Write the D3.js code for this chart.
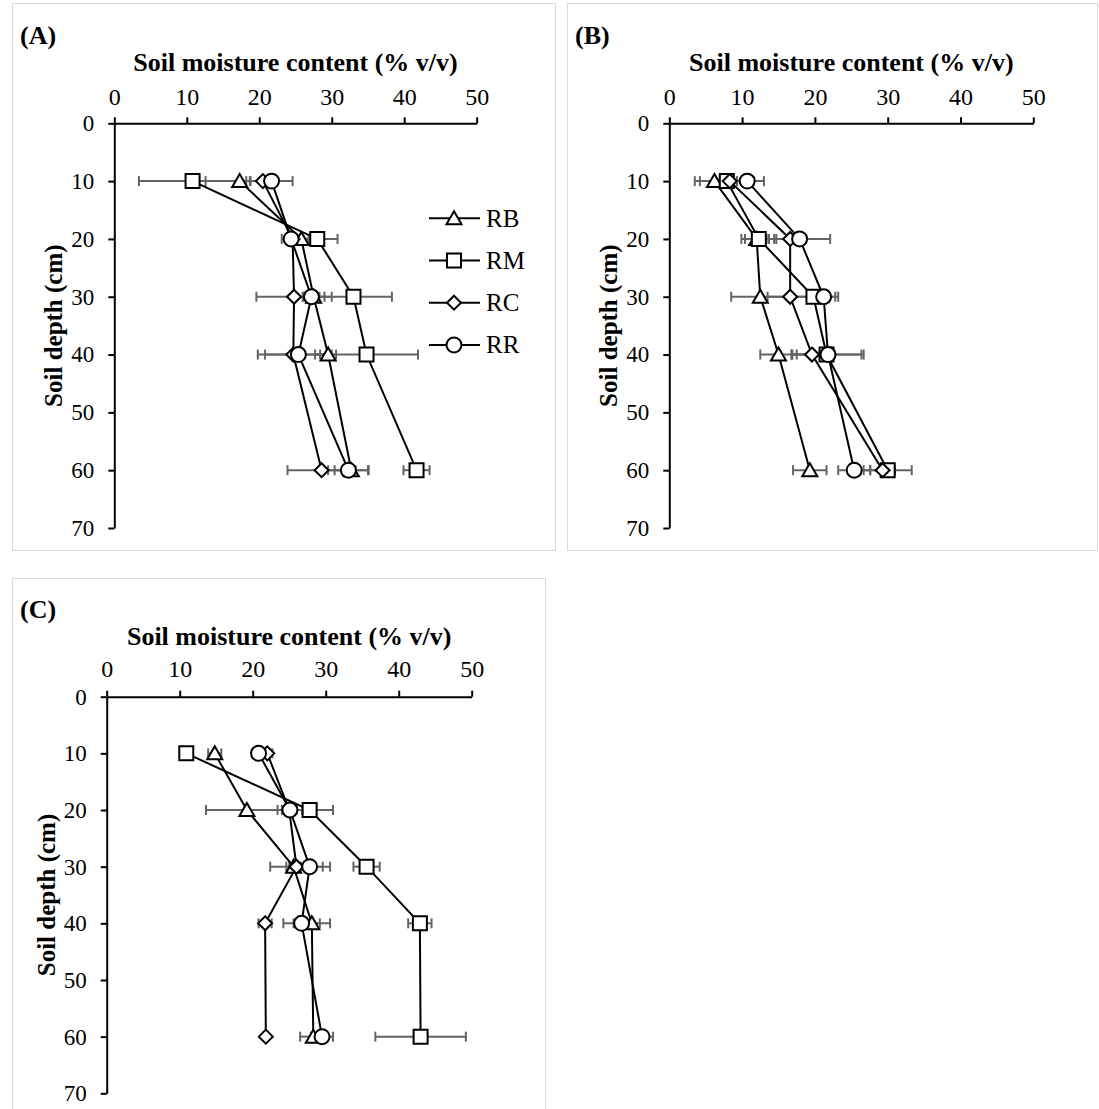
<!DOCTYPE html>
<html>
<head>
<meta charset="utf-8">
<script src="https://cdn.jsdelivr.net/npm/d3@7"></script>
<style>
  body { margin: 0; background: #fff; }
  text { font-family: "Liberation Serif", "Times New Roman", serif; fill: #000; }
</style>
</head>
<body>
<svg id="chart" width="1099" height="1109"></svg>
<script>
// depths and labels
var depths = [10, 20, 30, 40, 60];
var names = ["RB", "RM", "RC", "RR"];
var xTicks = [0, 10, 20, 30, 40, 50];
var yTicks = [0, 10, 20, 30, 40, 50, 60, 70];

// panel A: mean soil moisture and error bar half-width per depth
var aRB = [17.3, 25.8, 27.5, 29.5, 32.7], aRBErr = [4.7, 1.0, 1.5, 1.1, 2.3];
var aRM = [10.8, 28.0, 33.0, 34.8, 41.7], aRMErr = [7.4, 2.8, 5.3, 7.1, 1.8];
var aRC = [20.5, 24.6, 24.8, 24.7, 28.6], aRCErr = [1.8, 1.0, 5.2, 4.9, 4.7];
var aRR = [21.7, 24.4, 27.2, 25.4, 32.3], aRRErr = [2.9, 1.3, 1.1, 4.6, 2.8];

// panel B
var bRB = [6.2, 12.0, 12.5, 15.0, 19.3], bRBErr = [2.7, 1.6, 4.0, 2.5, 2.3];
var bRM = [7.9, 12.3, 19.8, 21.6, 30.0], bRMErr = [3.7, 2.4, 3.4, 4.8, 3.3];
var bRC = [8.3, 16.6, 16.6, 19.6, 29.3], bRCErr = [1.0, 2.2, 3.1, 2.8, 1.7];
var bRR = [10.7, 17.9, 21.2, 21.8, 25.4], bRRErr = [2.3, 4.2, 1.6, 4.9, 2.2];

// panel C
var cRB = [14.8, 19.2, 25.6, 28.1, 28.3], cRBErr = [0.9, 5.6, 1.0, 2.5, 1.8];
var cRM = [10.9, 27.8, 35.6, 42.9, 43.0], cRMErr = [0.0, 3.2, 1.8, 1.6, 6.2];
var cRC = [22.0, 25.0, 26.0, 21.7, 21.8], cRCErr = [0.7, 1.0, 3.6, 0.9, 0.3];
var cRR = [20.8, 25.1, 27.8, 26.7, 29.5], cRRErr = [0.9, 1.7, 2.8, 2.5, 1.5];

var svg = d3.select("#chart");

var panels = [
  { tag: "(A)", box: [12, 3, 543, 547], x0: 114.3, x1: 476.7, y0: 123.3, y1: 528, pad: 12, legend: true,
    series: [[aRB, aRBErr], [aRM, aRMErr], [aRC, aRCErr], [aRR, aRRErr]] },
  { tag: "(B)", box: [567, 3, 530, 547], x0: 669.3, x1: 1033.3, y0: 123.3, y1: 528, pad: 12, legend: false,
    series: [[bRB, bRBErr], [bRM, bRMErr], [bRC, bRCErr], [bRR, bRRErr]] },
  { tag: "(C)", box: [12, 578, 533, 560], x0: 106.7, x1: 471.7, y0: 696.7, y1: 1093.3, pad: 14, legend: false,
    series: [[cRB, cRBErr], [cRM, cRMErr], [cRC, cRCErr], [cRR, cRRErr]] }
];

// marker shapes, drawn centred on 0,0
function marker(sel, name) {
  var p;
  if (name == "RB") p = "M0,-7L7.5,6L-7.5,6Z";
  else if (name == "RM") p = "M-7,-7H7V7H-7Z";
  else if (name == "RC") p = "M0,-7L7,0L0,7L-7,0Z";
  else p = d3.symbol().type(d3.symbolCircle).size(Math.PI * 56)();
  sel.append("path").attr("d", p)
    .attr("fill", "#fff").attr("stroke", "#000").attr("stroke-width", 2);
}

function drawPanel(p) {
  var g = svg.append("g");
  g.append("rect")
    .attr("x", p.box[0] + 0.5).attr("y", p.box[1] + 0.5)
    .attr("width", p.box[2]).attr("height", p.box[3])
    .attr("fill", "none").attr("stroke", "#d9d9d9");

  var x = d3.scaleLinear().domain([0, 50]).range([p.x0, p.x1]);
  var y = d3.scaleLinear().domain([0, 70]).range([p.y0, p.y1]);

  var xAxis = g.append("g")
    .attr("transform", "translate(0," + p.y0 + ")")
    .call(d3.axisTop(x).tickValues(xTicks).tickSize(6).tickSizeOuter(0).tickPadding(p.pad));
  var yAxis = g.append("g")
    .attr("transform", "translate(" + p.x0 + ",0)")
    .call(d3.axisLeft(y).tickValues(yTicks).tickSize(6).tickSizeOuter(0).tickPadding(14));

  [xAxis, yAxis].forEach(function (a) {
    a.attr("font-family", "Liberation Serif, Times New Roman, serif").attr("font-size", 24);
    a.select(".domain").attr("stroke", "#000").attr("stroke-width", 2);
    a.selectAll(".tick line").attr("stroke", "#000").attr("stroke-width", 2);
    a.selectAll(".tick text").attr("fill", "#000");
  });
  yAxis.attr("font-size", 23);

  var cx = (p.x0 + p.x1) / 2;
  g.append("text").attr("x", p.box[0] + 8).attr("y", p.y0 - 79)
    .attr("font-size", 26).attr("font-weight", "bold").text(p.tag);
  g.append("text").attr("x", cx).attr("y", p.y0 - 52)
    .attr("text-anchor", "middle").attr("font-size", 26).attr("font-weight", "bold")
    .text("Soil moisture content (% v/v)");
  g.append("text")
    .attr("transform", "translate(" + (p.x0 - 52) + "," + ((p.y0 + p.y1) / 2) + ") rotate(-90)")
    .attr("text-anchor", "middle").attr("font-size", 25).attr("font-weight", "bold")
    .text("Soil depth (cm)");

  // error bars first, then lines, then markers
  p.series.forEach(function (s) {
    var eb = g.append("g").attr("stroke", "#646464").attr("stroke-width", 2);
    depths.forEach(function (d, i) {
      var m = s[0][i], e = s[1][i];
      if (e <= 0) return;
      eb.append("line").attr("x1", x(m - e)).attr("x2", x(m + e)).attr("y1", y(d)).attr("y2", y(d));
      [m - e, m + e].forEach(function (v) {
        eb.append("line").attr("x1", x(v)).attr("x2", x(v)).attr("y1", y(d) - 5).attr("y2", y(d) + 5);
      });
    });
  });

  var line = d3.line().x(function (d) { return x(d[0]); }).y(function (d) { return y(d[1]); });
  p.series.forEach(function (s) {
    g.append("path")
      .attr("d", line(depths.map(function (d, i) { return [s[0][i], d]; })))
      .attr("fill", "none").attr("stroke", "#000").attr("stroke-width", 2);
  });

  p.series.forEach(function (s, k) {
    depths.forEach(function (d, i) {
      var mk = g.append("g").attr("transform", "translate(" + x(s[0][i]) + "," + y(d) + ")");
      marker(mk, names[k]);
    });
  });

  if (p.legend) {
    names.forEach(function (n, k) {
      var ly = 218.3 + k * 42.2;
      var lg = g.append("g").attr("transform", "translate(429," + ly + ")");
      lg.append("line").attr("x1", 0).attr("x2", 51).attr("stroke", "#000").attr("stroke-width", 2);
      var mk = lg.append("g").attr("transform", "translate(25,0)");
      marker(mk, n);
      lg.append("text").attr("x", 57).attr("y", 8.5).attr("font-size", 25).text(n);
    });
  }
}

panels.forEach(drawPanel);
</script>
</body>
</html>
